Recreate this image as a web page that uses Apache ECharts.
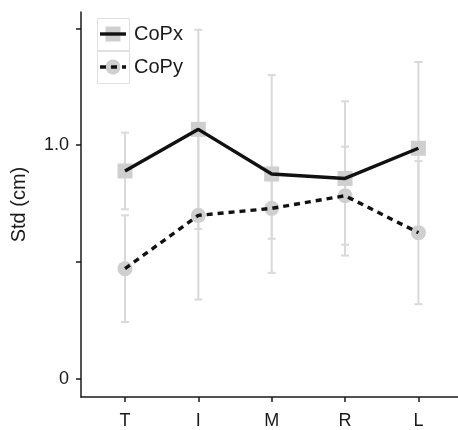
<!DOCTYPE html>
<html>
<head>
<meta charset="utf-8">
<script src="https://cdn.jsdelivr.net/npm/echarts@6/dist/echarts.min.js"></script>
<style>
	html, body { margin: 0; padding: 0; background: #fff; }
	#chart { width: 458px; height: 430px; }
</style>
</head>
<body>
<div id="chart"></div>
<script>
// 数据
var categories = ['T', 'I', 'M', 'R', 'L'];
var copxMean = [0.89, 1.068, 0.877, 0.858, 0.987];
var copxSd = [0.164, 0.426, 0.423, 0.33, 0.369];
var copyMean = [0.472, 0.70, 0.73, 0.784, 0.626];
var copySd = [0.228, 0.36, 0.13, 0.21, 0.306];
var legendNames = ['CoPx', 'CoPy'];

var FONT = '"Liberation Sans", Arial, Helvetica, sans-serif';
var BAR_COLOR = '#d9d9d9';
var MARK_COLOR = '#cfcfcf';
var DASH = [6, 5];
var LINE_W = 3.4;

// 点数据 [x, y]
function toPoints(mean) {
	return mean.map(function(v, i) {
		return [i + 1, v];
	});
}

// 误差线数据 [x, low, high]
function toBars(mean, sd) {
	return mean.map(function(v, i) {
		return [i + 1, v - sd[i], v + sd[i]];
	});
}

// 误差线绘制
function renderErrorBar(params, api) {
	var x = api.value(0);
	var low = api.coord([x, api.value(1)]);
	var high = api.coord([x, api.value(2)]);
	var cap = 4;
	var style = { stroke: BAR_COLOR, lineWidth: 2 };
	return {
		type: 'group',
		children: [{
			type: 'line',
			shape: { x1: low[0], y1: low[1], x2: high[0], y2: high[1] },
			style: style
		}, {
			type: 'line',
			shape: { x1: low[0] - cap, y1: low[1], x2: low[0] + cap, y2: low[1] },
			style: style
		}, {
			type: 'line',
			shape: { x1: high[0] - cap, y1: high[1], x2: high[0] + cap, y2: high[1] },
			style: style
		}]
	};
}

// 图例（ggplot 风格，线条压在点上）
function legendKey(top, isCircle, dashed, label) {
	var cy = top + 16;
	var marker = isCircle ? {
		type: 'circle',
		shape: { cx: 113, cy: cy, r: 7.5 },
		style: { fill: MARK_COLOR }
	} : {
		type: 'rect',
		shape: { x: 105.5, y: cy - 7.5, width: 15, height: 15 },
		style: { fill: MARK_COLOR }
	};
	return {
		type: 'group',
		children: [{
			type: 'rect',
			shape: { x: 97.5, y: top + 0.5, width: 32, height: 32 },
			style: { fill: '#fff', stroke: '#e0e0e0', lineWidth: 1 }
		}, marker, {
			type: 'line',
			shape: { x1: 100, y1: cy, x2: 126, y2: cy },
			style: { stroke: '#111', lineWidth: LINE_W, lineDash: dashed ? DASH : null }
		}, {
			type: 'text',
			x: 134,
			y: cy,
			style: {
				text: label,
				fontFamily: FONT,
				fontSize: 20,
				fill: '#1a1a1a',
				verticalAlign: 'middle'
			}
		}]
	};
}

var myChart = echarts.init(document.getElementById('chart'));

var option = {
	animation: false,
	backgroundColor: '#fff',
	grid: {
		left: 81,
		right: 0,
		top: 12,
		bottom: 31
	},
	graphic: [
		legendKey(18, false, false, legendNames[0]),
		legendKey(51, true, true, legendNames[1])
	],
	xAxis: {
		type: 'value',
		min: 0.4,
		max: 5.54,
		splitLine: { show: false },
		axisLine: { onZero: false, lineStyle: { color: '#1a1a1a', width: 1.5 } },
		axisTick: {
			customValues: [1, 2, 3, 4, 5],
			length: 5,
			lineStyle: { color: '#1a1a1a', width: 1.5 }
		},
		axisLabel: {
			customValues: [1, 2, 3, 4, 5],
			margin: 15,
			fontFamily: FONT,
			fontSize: 18,
			color: '#1a1a1a',
			formatter: function(v) {
				return categories[Math.round(v) - 1];
			}
		}
	},
	yAxis: {
		type: 'value',
		min: -0.077,
		max: 1.57,
		name: 'Std (cm)',
		nameLocation: 'middle',
		nameGap: 52,
		nameTextStyle: {
			fontFamily: FONT,
			fontSize: 20,
			color: '#1a1a1a'
		},
		splitLine: { show: false },
		axisLine: { show: true, onZero: false, lineStyle: { color: '#1a1a1a', width: 1.5 } },
		axisTick: {
			show: true,
			customValues: [0, 0.5, 1, 1.5],
			length: 5,
			lineStyle: { color: '#1a1a1a', width: 1.5 }
		},
		axisLabel: {
			customValues: [0, 1],
			margin: 12,
			fontFamily: FONT,
			fontSize: 18,
			color: '#1a1a1a',
			formatter: function(v) {
				return v === 0 ? '0' : v.toFixed(1);
			}
		}
	},
	series: [{
		name: 'errCoPx',
		type: 'custom',
		renderItem: renderErrorBar,
		data: toBars(copxMean, copxSd),
		z: 1
	}, {
		name: 'errCoPy',
		type: 'custom',
		renderItem: renderErrorBar,
		data: toBars(copyMean, copySd),
		z: 1
	}, {
		name: 'CoPx',
		type: 'line',
		data: toPoints(copxMean),
		symbol: 'rect',
		symbolSize: 15,
		itemStyle: { color: MARK_COLOR },
		lineStyle: { width: 0 },
		z: 2
	}, {
		name: 'CoPy',
		type: 'line',
		data: toPoints(copyMean),
		symbol: 'circle',
		symbolSize: 15,
		itemStyle: { color: MARK_COLOR },
		lineStyle: { width: 0 },
		z: 2
	}, {
		// 线条画在点的上面
		name: 'lineCoPx',
		type: 'line',
		data: toPoints(copxMean),
		showSymbol: false,
		symbol: 'none',
		lineStyle: { color: '#111', width: LINE_W },
		z: 3
	}, {
		name: 'lineCoPy',
		type: 'line',
		data: toPoints(copyMean),
		showSymbol: false,
		symbol: 'none',
		lineStyle: { color: '#111', width: LINE_W, type: DASH },
		z: 3
	}]
};

myChart.setOption(option);
</script>
</body>
</html>
